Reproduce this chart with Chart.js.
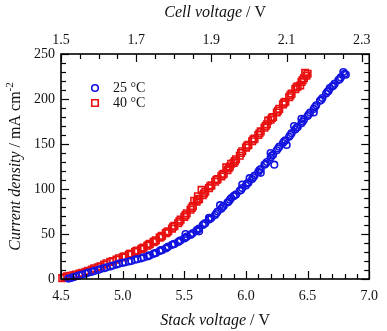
<!DOCTYPE html>
<html>
<head>
<meta charset="utf-8">
<script src="https://cdn.jsdelivr.net/npm/chart.js@4.4.1/dist/chart.umd.min.js"></script>
<style>
html, body { margin: 0; background: #fff; }
#wrap { width: 387px; height: 331px; }
</style>
</head>
<body>
<div id="wrap"><canvas id="chart"></canvas></div>
<script>
// 25 °C run: stack voltage (V) and current density (mA cm-2)
const volt25 = [4.56, 4.58, 4.60, 4.62, 4.65, 4.67, 4.70, 4.72, 4.75, 4.77, 4.80, 4.82, 4.85, 4.87, 4.90, 4.92, 4.95, 4.97,
    5.00, 5.02, 5.05, 5.07, 5.10, 5.12, 5.15, 5.17, 5.20, 5.22, 5.25, 5.27, 5.30, 5.32, 5.35, 5.37, 5.40, 5.42, 5.45, 5.47,
    5.50, 5.52, 5.55, 5.57, 5.60, 5.62, 5.65, 5.67, 5.70, 5.72, 5.75, 5.77, 5.80, 5.82, 5.85, 5.87, 5.90, 5.92, 5.95, 5.97,
    6.00, 6.02, 6.05, 6.07, 6.10, 6.12, 6.15, 6.17, 6.20, 6.22, 6.25, 6.27, 6.30, 6.32, 6.35, 6.37, 6.40, 6.42, 6.45, 6.47,
    6.50, 6.52, 6.55, 6.57, 6.60, 6.62, 6.65, 6.67, 6.70, 6.72, 6.75, 6.77, 6.80, 6.81,
    5.21, 5.26, 5.31, 5.36, 5.41, 5.46, 5.51, 5.56, 5.61, 5.66, 5.71, 5.76, 5.81, 5.86, 5.91, 5.96,
    6.01, 6.06, 6.11, 6.16, 6.21, 6.26, 6.31, 6.36, 6.41, 6.46, 6.51, 6.56, 6.61, 6.66, 6.71, 6.76,
    5.51, 5.62, 5.70, 5.79, 5.88, 5.97, 6.03, 6.12, 6.20, 6.23, 6.33, 6.39, 6.45, 6.55, 6.68, 6.79];
const cur25 = [0.5, 1, 2, 3, 4, 5, 6, 7, 8, 9, 10, 11, 12, 13, 14, 15, 16, 17,
    18, 18.5, 19.5, 20, 21.5, 22, 23, 24, 25, 26, 28, 29, 31, 32, 34, 36, 38, 39, 41, 43,
    45, 47, 49, 51, 54, 56, 60, 62, 66, 68, 71, 75, 78, 81, 85, 88, 92, 94, 98, 101,
    104, 107, 111, 115, 119, 122, 127, 130, 135, 138, 143, 147, 151, 154, 158, 162, 166, 169, 173, 177,
    181, 185, 189, 193, 198, 201, 206, 209, 214, 217, 221, 224, 228, 227,
    26, 28.5, 32, 35, 38.5, 42, 46, 50, 55, 61, 67, 73, 80, 86, 93, 99,
    106, 113, 121, 128, 137, 145, 153, 160, 168, 175, 183, 191, 199, 208, 215, 222,
    50, 53, 68, 82, 90, 105, 112, 118, 140, 127, 149, 170, 178, 185, 212, 230];

// 40 °C run
const volt40 = [4.51, 4.53, 4.55, 4.57, 4.60, 4.62, 4.65, 4.67, 4.70, 4.72, 4.75, 4.77, 4.80, 4.82, 4.85, 4.87, 4.90, 4.92, 4.95, 4.97,
    5.00, 5.02, 5.05, 5.07, 5.10, 5.12, 5.15, 5.17, 5.20, 5.22, 5.25, 5.27, 5.30, 5.32, 5.35, 5.37, 5.40, 5.42, 5.45, 5.47,
    5.50, 5.52, 5.55, 5.57, 5.60, 5.62, 5.65, 5.67, 5.70, 5.72, 5.75, 5.77, 5.80, 5.82, 5.85, 5.87, 5.90, 5.92, 5.95, 5.97,
    6.00, 6.02, 6.05, 6.07, 6.10, 6.12, 6.15, 6.17, 6.20, 6.22, 6.25, 6.27, 6.30, 6.32, 6.35, 6.37, 6.40, 6.42, 6.45, 6.47, 6.49, 6.50,
    5.01, 5.06, 5.11, 5.16, 5.21, 5.26, 5.31, 5.36, 5.41, 5.46, 5.51, 5.56, 5.61, 5.66, 5.71, 5.76,
    5.81, 5.86, 5.91, 5.96, 6.01, 6.06, 6.11, 6.16, 6.21, 6.26, 6.31, 6.36, 6.41, 6.46,
    5.58, 5.61, 5.64, 5.84, 5.88, 6.18, 6.44, 6.48];
const cur40 = [1, 2, 3, 3.5, 4, 5, 6, 7, 8, 9, 10.5, 12, 13, 14, 16, 17.5, 19, 20, 21.5, 23,
    24, 25, 27, 28, 30, 31.5, 33, 35, 37, 39, 41, 43, 46, 48, 51, 53, 56, 59, 62, 66,
    69, 73, 77, 81, 86, 89, 93, 97, 101, 104, 108, 111, 114, 117, 121, 125, 129, 133, 137, 142,
    146, 149, 153, 156, 160, 164, 168, 172, 177, 180, 185, 189, 194, 197, 202, 206, 211, 214, 219, 223, 226, 228,
    25, 28, 31, 34, 38, 42, 47, 52, 58, 64, 71, 79, 88, 95, 103, 110,
    116, 123, 131, 140, 148, 155, 162, 170, 179, 187, 196, 204, 213, 221,
    87, 92, 99, 124, 128, 176, 215, 229];

const seriesNames = ['25 °C', '40 °C'];
const stackTicks = [4.5, 5.0, 5.5, 6.0, 6.5, 7.0];
const cellTicks = [1.5, 1.7, 1.9, 2.1, 2.3];
const curTicks = [0, 50, 100, 150, 200, 250];

const SERIF = "'Liberation Serif', 'DejaVu Serif', serif";
const BLUE = '#1414e0';
const RED = '#e81010';

const toPoints = (xs, ys) => xs.map((v, i) => ({ x: v, y: ys[i] }));

// inward ticks on all four sides + frame
const framePlugin = {
    id: 'frame',
    afterDatasetsDraw(chart) {
        const { ctx, chartArea: a, scales } = chart;
        ctx.save();
        ctx.strokeStyle = '#000';
        const line = (x1, y1, x2, y2) => { ctx.beginPath(); ctx.moveTo(x1, y1); ctx.lineTo(x2, y2); ctx.stroke(); };
        ctx.lineWidth = 1.2;
        // bottom stack voltage, minor every 0.1
        for (let i = 0; i <= 25; i++) {
            const px = Math.round(scales.x.getPixelForValue(4.5 + i * 0.1)) + 0.5;
            const len = i % 5 === 0 ? 8 : 5;
            line(px, a.bottom, px, a.bottom - len);
        }
        // top cell voltage, minor every 0.05
        for (let i = 0; i <= 16; i++) {
            const v = 1.5 + i * 0.05;
            if (v > 2.32) break;
            const px = Math.round(scales.x2.getPixelForValue(v)) + 0.5;
            const len = i % 4 === 0 ? 8 : 5;
            line(px, a.top, px, a.top + len);
        }
        // left / right, minor every 10
        for (let i = 0; i <= 25; i++) {
            const py = Math.round(scales.y.getPixelForValue(i * 10)) + 0.5;
            const len = i % 5 === 0 ? 8 : 5;
            line(a.left, py, a.left + len, py);
            line(a.right, py, a.right - len, py);
        }
        ctx.lineWidth = 1.6;
        ctx.strokeRect(a.left, a.top, a.right - a.left, a.bottom - a.top);

        // axis titles: italic quantity, upright unit
        const mixed = (parts, cx, cy, rot) => {
            ctx.save();
            ctx.translate(cx, cy);
            ctx.rotate(rot);
            ctx.textBaseline = 'middle';
            ctx.fillStyle = '#111';
            let w = 0;
            parts.forEach(p => { ctx.font = p.font; w += ctx.measureText(p.t).width; });
            let x = -w / 2;
            parts.forEach(p => {
                ctx.font = p.font;
                ctx.fillText(p.t, x, p.dy || 0);
                x += ctx.measureText(p.t).width;
            });
            ctx.restore();
        };
        const it = 'italic 16px ' + SERIF, up = '16px ' + SERIF, sup = '11px ' + SERIF;
        const midX = (a.left + a.right) / 2, midY = (a.top + a.bottom) / 2;
        mixed([{ t: 'Stack voltage', font: it }, { t: ' / V', font: up }], midX, 321, 0);
        mixed([{ t: 'Cell voltage', font: it }, { t: ' / V', font: up }], midX, 13, 0);
        mixed([{ t: 'Current density', font: it }, { t: ' / mA cm', font: up }, { t: '-2', font: sup, dy: -6 }], 16, midY, -Math.PI / 2);

        // legend
        ctx.font = '14px ' + SERIF;
        ctx.textBaseline = 'middle';
        chart.data.datasets.forEach((ds, i) => {
            const y = a.top + 34 + i * 15;
            ctx.strokeStyle = ds.borderColor;
            ctx.fillStyle = 'rgba(0,0,0,0)';
            Chart.helpers.drawPoint(ctx, { pointStyle: ds.pointStyle, radius: ds.pointRadius, borderWidth: ds.borderWidth }, 95, y);
            ctx.fillStyle = '#111';
            ctx.fillText(ds.label, 113, y);
        });
        ctx.restore();
    }
};

const tickFont = { family: SERIF, size: 14 };

new Chart(document.getElementById('chart'), {
    type: 'scatter',
    data: {
        datasets: [
            { label: seriesNames[0], data: toPoints(volt25, cur25), pointStyle: 'circle', pointRadius: 3.3,
              borderColor: BLUE, backgroundColor: 'rgba(0,0,0,0)', borderWidth: 1.6, clip: false },
            { label: seriesNames[1], data: toPoints(volt40, cur40), pointStyle: 'rect', pointRadius: 4.6,
              borderColor: RED, backgroundColor: 'rgba(0,0,0,0)', borderWidth: 1.6, clip: false }
        ]
    },
    options: {
        responsive: true,
        maintainAspectRatio: false,
        animation: false,
        devicePixelRatio: 1,
        layout: { padding: { left: 0, right: 12, top: 0, bottom: 0 } },
        plugins: { legend: { display: false }, tooltip: { enabled: false } },
        scales: {
            x: {
                type: 'linear', position: 'bottom', min: 4.5, max: 7.0,
                grid: { display: false, drawTicks: false }, border: { display: false },
                ticks: { padding: 9, font: tickFont, color: '#111', callback: v => v.toFixed(1) },
                afterBuildTicks: s => { s.ticks = stackTicks.map(v => ({ value: v })); },
                afterFit: s => { s.height = 52; }
            },
            x2: {
                type: 'linear', position: 'top', min: 1.5, max: 2.32,
                grid: { display: false, drawTicks: false }, border: { display: false },
                ticks: { padding: 5, font: tickFont, color: '#111', callback: v => v.toFixed(1) },
                afterBuildTicks: s => { s.ticks = cellTicks.map(v => ({ value: v })); },
                afterFit: s => { s.height = 54; }
            },
            y: {
                type: 'linear', position: 'left', min: 0, max: 250,
                grid: { display: false, drawTicks: false }, border: { display: false },
                ticks: { padding: 6, font: tickFont, color: '#111' },
                afterBuildTicks: s => { s.ticks = curTicks.map(v => ({ value: v })); },
                afterFit: s => { s.width = 61; }
            }
        }
    },
    plugins: [framePlugin]
});
</script>
</body>
</html>
